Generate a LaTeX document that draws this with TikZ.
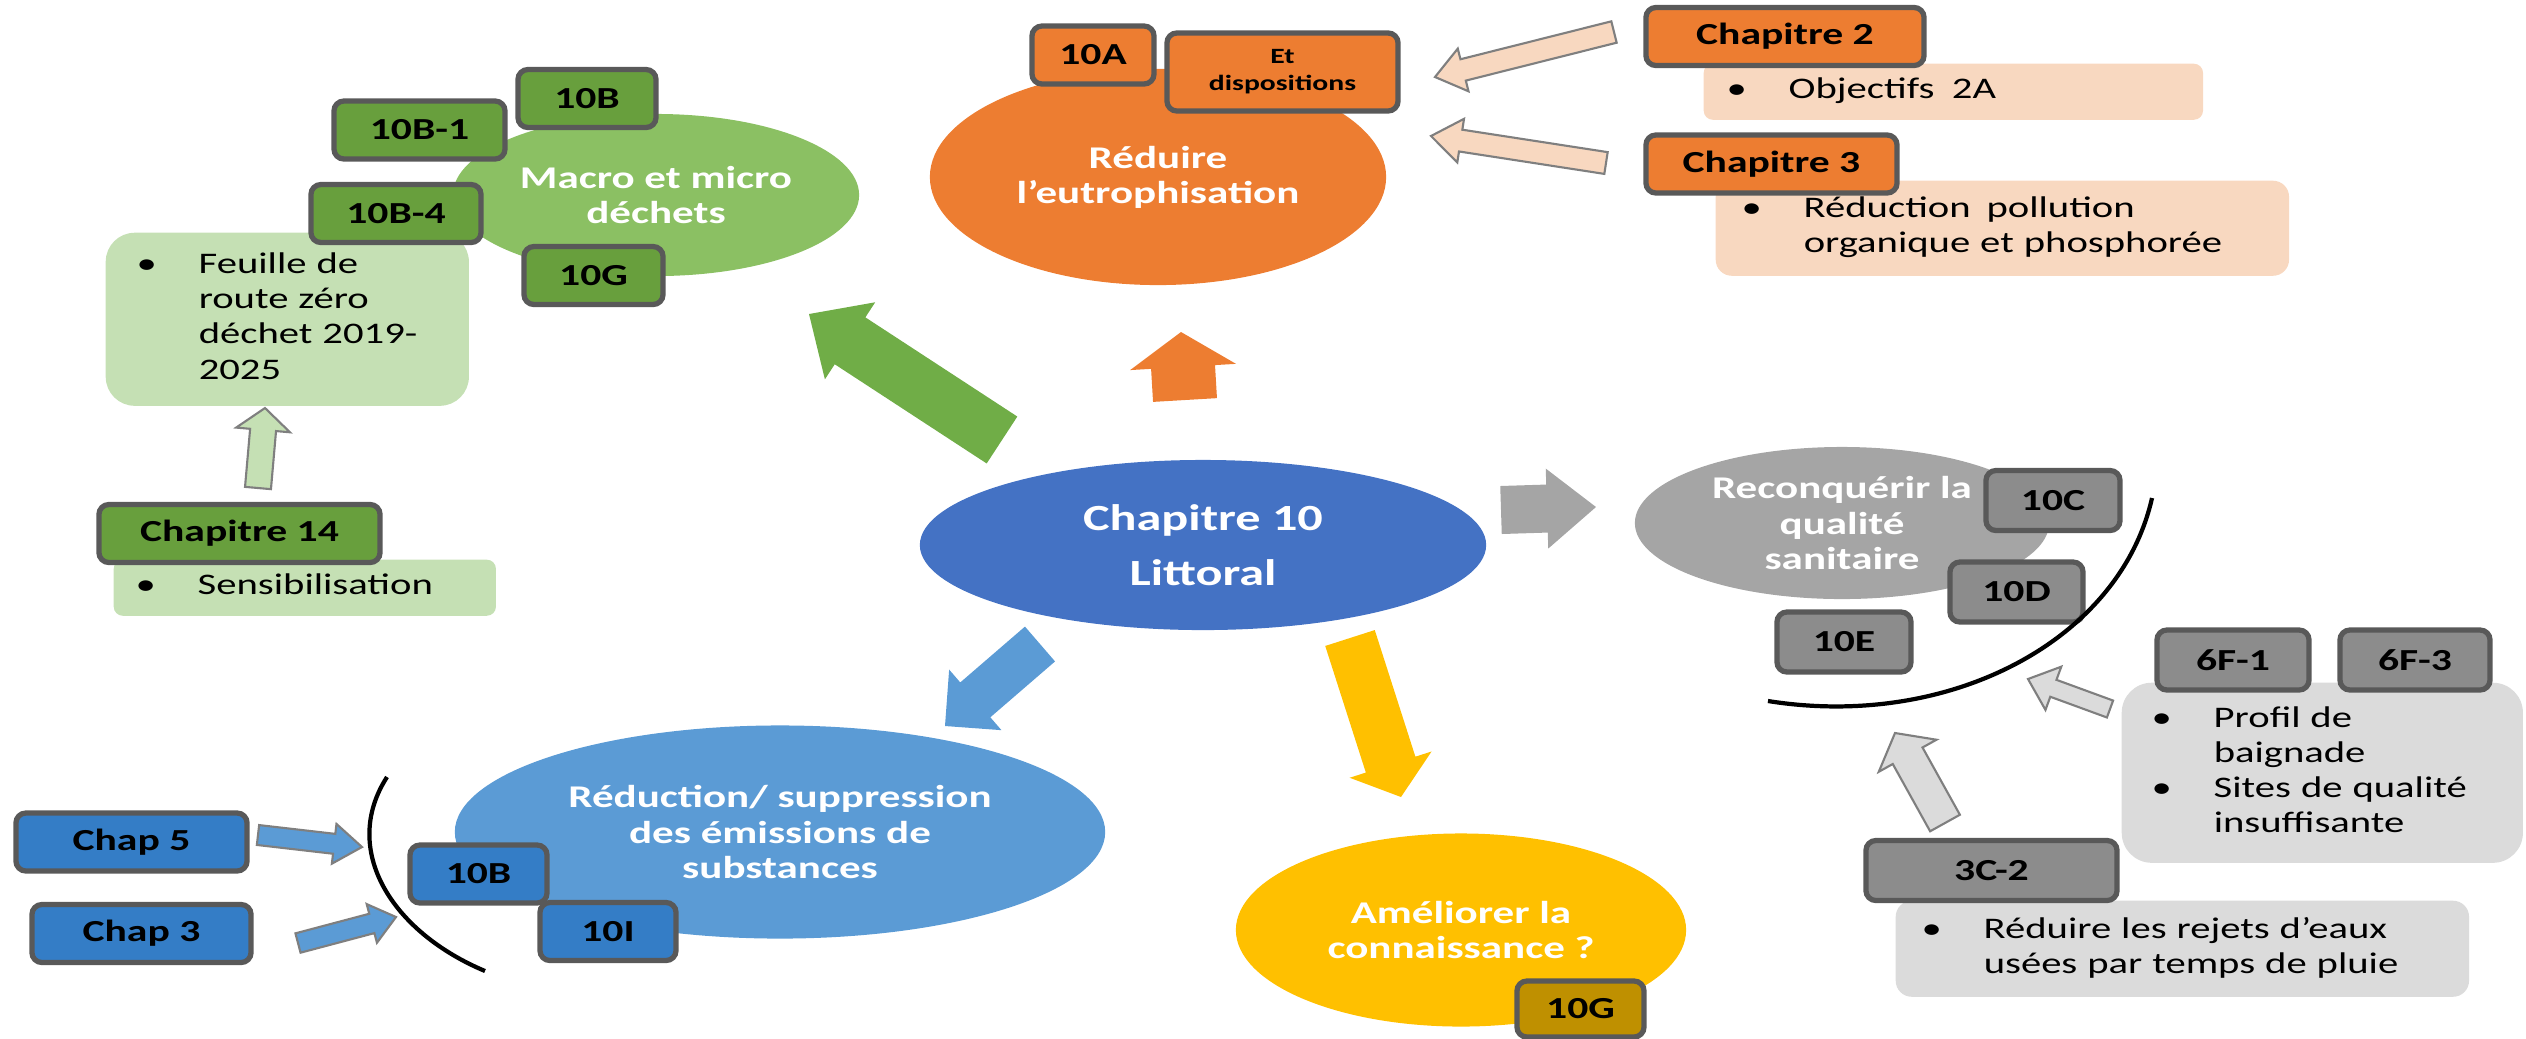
\documentclass[tikz,border=0pt]{standalone}
\usepackage{fontspec}
\setmainfont{Carlito}[FakeStretch=1.36]
\usepackage{tikz}
\usetikzlibrary{shapes, calc}

\definecolor{bleuC}{HTML}{4472C4}
\definecolor{orangeC}{HTML}{ED7D31}
\definecolor{peche}{RGB}{248,216,192}
\definecolor{vertE}{RGB}{139,192,99}
\definecolor{vertF}{HTML}{70AD47}
\definecolor{vertB}{RGB}{104,159,61}
\definecolor{vertC}{HTML}{C5E0B4}
\definecolor{bleuE}{HTML}{5B9BD5}
\definecolor{bleuB}{RGB}{52,125,198}
\definecolor{grisE}{HTML}{A5A5A5}
\definecolor{grisB}{RGB}{140,140,140}
\definecolor{grisC}{HTML}{DBDBDB}
\definecolor{jaune}{HTML}{FFC000}
\definecolor{jauneB}{HTML}{BF9000}
\definecolor{bord}{HTML}{595959}
\definecolor{trait}{HTML}{7F7F7F}

\tikzstyle{bulle} = [ellipse, inner sep=0pt, text=white, align=center,
  font=\fontsize{9}{10}\selectfont\bfseries]
\tikzstyle{etiq} = [rectangle, draw=bord, line width=1.5pt, rounded corners=0.1cm,
  inner sep=0pt, minimum height=0.58cm, font=\fontsize{8.7}{9.5}\selectfont\bfseries]
\tikzstyle{vetiq} = [etiq, fill=vertB]
\tikzstyle{oetiq} = [etiq, fill=orangeC]
\tikzstyle{betiq} = [etiq, fill=bleuB]
\tikzstyle{setiq} = [etiq, fill=grisB, minimum height=0.60cm]
\tikzstyle{jetiq} = [etiq, fill=jauneB]
\tikzstyle{liste} = [rectangle, anchor=north west, inner ysep=0pt, align=left,
  font=\fontsize{8.5}{10}\selectfont]
\tikzstyle{fleche} = [draw=trait, line width=0.6pt]
\tikzstyle{courbe} = [draw=black, line width=1.2pt]

% bullet list: one column for the bullet, one for the lines
\newcommand{\puces}[1]{\begin{tabular}{@{}p{0.62cm}@{}l@{}}#1\end{tabular}}

% block arrow: style, tail, tip, half shaft, half head, head length (cm)
\newcommand{\blockarrow}[6]{%
  \coordinate (#2-#3) at ($(#3)!#6cm!(#2)$);
  \path [#1] ($(#2)!#4cm!90:(#3)$) -- ($(#2-#3)!#4cm!90:(#3)$)
    -- ($(#2-#3)!#5cm!90:(#3)$) -- (#3) -- ($(#2-#3)!#5cm!-90:(#3)$)
    -- ($(#2-#3)!#4cm!-90:(#3)$) -- ($(#2)!#4cm!-90:(#3)$) -- cycle;}

\begin{document}
\begin{tikzpicture}[x=0.01cm, y=-0.01cm]
    \useasboundingbox (0,0) rectangle (2526,1038);

    % themes
    \node [bulle, fill=vertE, minimum width=4.06cm, minimum height=1.62cm] (macro) at (656,195) {Macro et micro\\déchets};
    \node [bulle, fill=orangeC, minimum width=4.56cm, minimum height=2.16cm] (eutro) at (1158,177) {Réduire\\l’eutrophisation};
    \node [bulle, fill=bleuC, minimum width=5.66cm, minimum height=1.70cm,
      font=\fontsize{10.5}{15.6}\selectfont\bfseries] (littoral) at (1203,545) {Chapitre 10\\Littoral};
    \node [bulle, fill=grisE, minimum width=4.14cm, minimum height=1.52cm] (sanit) at (1842,523) {Reconquérir la\\qualité\\sanitaire};
    \node [bulle, fill=bleuE, minimum width=6.50cm, minimum height=2.13cm] (emis) at (780,832) {Réduction/ suppression\\des émissions de\\substances};
    \node [bulle, fill=jaune, minimum width=4.50cm, minimum height=1.93cm] (connais) at (1461,930) {Améliorer la\\connaissance ?};

    % lists
    \node [liste, fill=peche, rounded corners=0.09cm, text width=4.53cm, inner xsep=0.23cm,
      minimum height=0.56cm] (obj2a) at (1703,63) {\puces{• & Objectifs\hspace{0.25em} 2A}};
    \node [liste, fill=peche, rounded corners=0.16cm, text width=5.21cm, inner xsep=0.26cm,
      minimum height=0.95cm] (pollu) at (1715,180) {\puces{• & Réduction\hspace{0.2em} pollution\\ & organique et phosphorée}};
    \node [liste, fill=vertC, rounded corners=0.29cm, text width=3.01cm, inner xsep=0.31cm,
      minimum height=1.73cm] (feuille) at (105,232) {\puces{• & Feuille de\\ & route zéro\\ & déchet 2019-\\ & 2025}};
    \node [liste, fill=vertC, rounded corners=0.09cm, text width=3.38cm, inner xsep=0.22cm,
      minimum height=0.56cm] (sensib) at (113,559) {\puces{• & Sensibilisation}};
    \node [liste, fill=grisC, rounded corners=0.30cm, text width=3.41cm, inner xsep=0.30cm,
      minimum height=1.80cm] (profil) at (2121,682) {\puces{• & Profil de\\ & baignade\\ • & Sites de qualité\\ & insuffisante}};
    \node [liste, fill=grisC, rounded corners=0.16cm, text width=5.21cm, inner xsep=0.26cm,
      minimum height=0.96cm] (rejets) at (1895,900) {\puces{• & Réduire les rejets d’eaux\\ & usées par temps de pluie}};

    % labels
    \node [vetiq, minimum width=1.38cm] (vB) at (587,98.5) {10B};
    \node [vetiq, minimum width=1.71cm] (vB1) at (419.5,130) {10B-1};
    \node [vetiq, minimum width=1.70cm] (vB4) at (396,213.5) {10B-4};
    \node [vetiq, minimum width=1.39cm] (vG) at (593.5,275.5) {10G};
    \node [vetiq, minimum width=2.81cm] (chap14) at (239.5,533.5) {Chapitre 14};

    \node [oetiq, minimum width=1.22cm] (oA) at (1093,55) {10A};
    \node [oetiq, minimum width=2.31cm, minimum height=0.78cm, align=center,
      font=\fontsize{6.2}{7.7}\selectfont\bfseries] (dispo) at (1282.5,72) {Et\\dispositions};
    \node [oetiq, minimum width=2.78cm] (chap2) at (1785,36.5) {Chapitre 2};
    \node [oetiq, minimum width=2.51cm] (chap3o) at (1771.5,164) {Chapitre 3};

    \node [betiq, minimum width=1.37cm] (bB) at (478.5,874) {10B};
    \node [betiq, minimum width=1.36cm] (bI) at (608,931.5) {10I};
    \node [betiq, minimum width=2.31cm] (chap5) at (131.5,842) {Chap 5};
    \node [betiq, minimum width=2.19cm] (chap3b) at (141.5,933.5) {Chap 3};

    \node [setiq, minimum width=1.34cm] (sC) at (2053,500.5) {10C};
    \node [setiq, minimum width=1.33cm] (sD) at (2016.5,592) {10D};
    \node [setiq, minimum width=1.34cm] (sE) at (1844,642) {10E};
    \node [setiq, minimum width=1.52cm] (f1) at (2233,660) {6F-1};
    \node [setiq, minimum width=1.50cm] (f3) at (2415,660) {6F-3};
    \node [setiq, minimum width=2.51cm] (c2) at (1991.5,870.5) {3C-2};

    \node [jetiq, minimum width=1.27cm, minimum height=0.56cm] (jG) at (1580.5,1009) {10G};

    % brackets
    \coordinate (bracketA1) at (387,777);
    \coordinate (bracketA2) at (485,971);
    \path [courbe] (bracketA1) .. controls (340,850) and (392,932) .. (bracketA2);
    \coordinate (bracketB1) at (2152,498);
    \coordinate (bracketB2) at (1768,701);
    \path [courbe] (bracketB1) .. controls (2120,640) and (1950,730) .. (bracketB2);

    % big arrows from the centre
    \coordinate (toMacroT) at (1002,440);  \coordinate (toMacroH) at (809,314);
    \coordinate (toEutroT) at (1185,400);  \coordinate (toEutroH) at (1181,332);
    \coordinate (toSanitT) at (1501,510);  \coordinate (toSanitH) at (1596,507);
    \coordinate (toEmisT) at (1040,644);   \coordinate (toEmisH) at (945,726);
    \coordinate (toConnT) at (1350,638);   \coordinate (toConnH) at (1401,797);
    \blockarrow{fill=vertF}{toMacroT}{toMacroH}{0.28}{0.46}{0.49}
    \blockarrow{fill=orangeC}{toEutroT}{toEutroH}{0.32}{0.53}{0.35}
    \blockarrow{fill=grisE}{toSanitT}{toSanitH}{0.24}{0.40}{0.49}
    \blockarrow{fill=bleuE}{toEmisT}{toEmisH}{0.23}{0.40}{0.40}
    \blockarrow{fill=jaune}{toConnT}{toConnH}{0.26}{0.43}{0.34}

    % small arrows from the other chapters
    \coordinate (chap2T) at (1614,32);   \coordinate (chap2H) at (1435,77);
    \coordinate (chap3T) at (1606,163);  \coordinate (chap3H) at (1431,136);
    \coordinate (sixfT) at (2110,709);   \coordinate (sixfH) at (2028,679);
    \coordinate (troiscT) at (1945,823); \coordinate (troiscH) at (1895,733);
    \coordinate (chap5T) at (258,835);   \coordinate (chap5H) at (362,847);
    \coordinate (chap3bT) at (298,943);  \coordinate (chap3bH) at (396,917);
    \coordinate (chap14T) at (258,488);  \coordinate (chap14H) at (265,408);
    \blockarrow{fleche, fill=peche}{chap2T}{chap2H}{0.11}{0.22}{0.29}
    \blockarrow{fleche, fill=peche}{chap3T}{chap3H}{0.11}{0.22}{0.30}
    \blockarrow{fleche, fill=grisC}{sixfT}{sixfH}{0.09}{0.23}{0.27}
    \blockarrow{fleche, fill=grisC}{troiscT}{troiscH}{0.17}{0.33}{0.26}
    \blockarrow{fleche, fill=bleuE}{chap5T}{chap5H}{0.10}{0.20}{0.28}
    \blockarrow{fleche, fill=bleuE}{chap3bT}{chap3bH}{0.10}{0.20}{0.25}
    \blockarrow{fleche, fill=vertC}{chap14T}{chap14H}{0.13}{0.27}{0.22}

\end{tikzpicture}
\end{document}
